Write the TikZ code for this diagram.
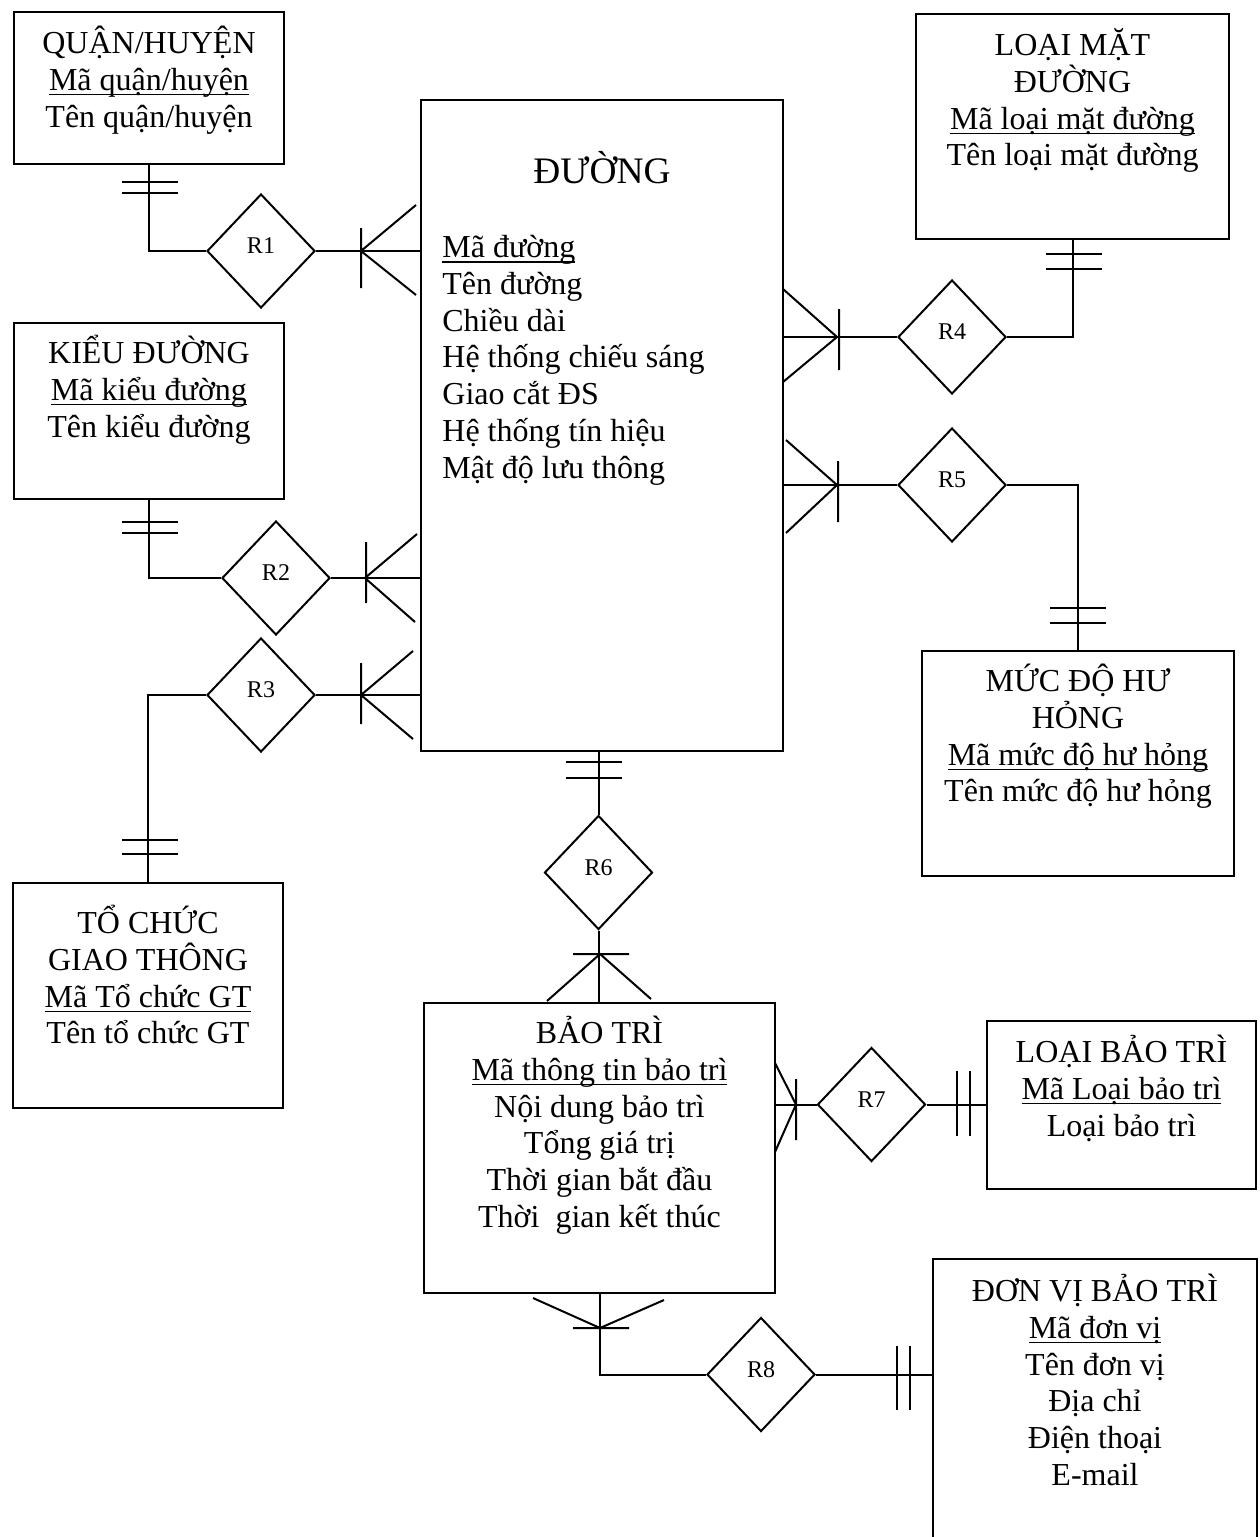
\documentclass[tikz,border=0pt]{standalone}
\usepackage{fontspec}
\setmainfont{Liberation Serif}
\usetikzlibrary{shapes.geometric}
\newsavebox\keyattrbox
\newcommand{\keyattr}[1]{\sbox\keyattrbox{#1}\rlap{\rule[-0.16em]{\wd\keyattrbox}{0.05em}}\usebox\keyattrbox}
\newcommand{\hstrutx}{\rule{0pt}{1.15em}}
\begin{document}
\begin{tikzpicture}[x=0.5pt,y=-0.5pt,
  ent/.style={draw, rectangle, line width=1.2pt, inner sep=0pt},
  rel/.style={draw, diamond, line width=1pt, inner sep=0pt, minimum width=54pt, minimum height=57pt,
    font=\fontsize{12}{14}\selectfont, text height=7.9pt, text depth=5pt},
  txt/.style={align=center, anchor=north, inner sep=0pt,
    font={\fontsize{16}{18.4}\selectfont\lineskiplimit=-100pt}},
  conn/.style={line width=1pt}]
\useasboundingbox (0,0) rectangle (1259,1537);
\fill[white] (0,0) rectangle (1259,1537);
\clip (0,0) rectangle (1259,1537);

% entities
\node[ent, minimum width=135pt, minimum height=76pt] (qh) at (149,88) {};
\node[ent, minimum width=181pt, minimum height=325.5pt] (duong) at (602,425.5) {};
\node[ent, minimum width=156.5pt, minimum height=112.5pt] (lmd) at (1072.5,126.5) {};
\node[ent, minimum width=135pt, minimum height=88pt] (kd) at (149,411) {};
\node[ent, minimum width=156pt, minimum height=112.5pt] (mdhh) at (1078,763.5) {};
\node[ent, minimum width=135pt, minimum height=112.5pt] (tc) at (148,995.5) {};
\node[ent, minimum width=175.5pt, minimum height=145pt] (bt) at (599.5,1148) {};
\node[ent, minimum width=134.5pt, minimum height=84pt] (lbt) at (1121.5,1105) {};
\node[ent, minimum width=162pt, minimum height=150.5pt] (dv) at (1095,1409.5) {};

% entity texts
\node[txt] (qht) at (149,16.2) {\hstrutx QUẬN/HUYỆN\\\keyattr{Mã quận/huyện}\\Tên quận/huyện};
\node[anchor=base, inner sep=0pt, font=\fontsize{18.7}{21}\selectfont] (duongt) at (602,183) {ĐƯỜNG};
\node[txt, align=left, anchor=north west] (duonga) at (442,220.2) {\hstrutx\keyattr{Mã đường}\\Tên đường\\Chiều dài\\Hệ thống chiếu sáng\\Giao cắt ĐS\\Hệ thống tín hiệu\\Mật độ lưu thông};
\node[txt] (lmdt) at (1072.5,18.2) {\hstrutx LOẠI MẶT\\ĐƯỜNG\\\keyattr{Mã loại mặt đường}\\Tên loại mặt đường};
\node[txt] (kdt) at (149,326.2) {\hstrutx KIỂU ĐƯỜNG\\\keyattr{Mã kiểu đường}\\Tên kiểu đường};
\node[txt] (mdhht) at (1078,654.2) {\hstrutx MỨC ĐỘ HƯ\\HỎNG\\\keyattr{Mã mức độ hư hỏng}\\Tên mức độ hư hỏng};
\node[txt] (tct) at (148,896.2) {\hstrutx TỔ CHỨC\\GIAO THÔNG\\\keyattr{Mã Tổ chức GT}\\Tên tổ chức GT};
\node[txt] (btt) at (599.5,1006.2) {\hstrutx BẢO TRÌ\\\keyattr{Mã thông tin bảo trì}\\Nội dung bảo trì\\Tổng giá trị\\Thời gian bắt đầu\\Thời~ gian kết thúc};
\node[txt] (lbtt) at (1121.5,1025.2) {\hstrutx LOẠI BẢO TRÌ\\\keyattr{Mã Loại bảo trì}\\Loại bảo trì};
\node[txt] (dvt) at (1095,1264.2) {\hstrutx ĐƠN VỊ BẢO TRÌ\\\keyattr{Mã đơn vị}\\Tên đơn vị\\Địa chỉ\\Điện thoại\\E-mail};

% relationships
\node[rel] (r1) at (261,251) {R1};
\node[rel] (r2) at (276,578) {R2};
\node[rel] (r3) at (261,695) {R3};
\node[rel] (r4) at (952,337) {R4};
\node[rel] (r5) at (952,485) {R5};
\node[rel] (r6) at (598.5,872.5) {R6};
\node[rel] (r7) at (871.5,1104.5) {R7};
\node[rel] (r8) at (761,1374.5) {R8};

% R1
\draw[conn] (qh.south) -- (qh.south |- r1.west) -- (r1.west);
\draw[conn] (122,182) -- (178,182) (122,193) -- (178,193);
\draw[conn] (r1.east) -- (r1.east -| duong.west);
\draw[conn] (416,205) -- (361,251) -- (416,295) (361,228) -- (361,288);
% R2
\draw[conn] (kd.south) -- (kd.south |- r2.west) -- (r2.west);
\draw[conn] (122,522) -- (178,522) (122,533) -- (178,533);
\draw[conn] (r2.east) -- (r2.east -| duong.west);
\draw[conn] (417,534) -- (365,578) -- (415,622) (366,542) -- (366,603);
% R3
\draw[conn] (r3.west) -| (tc.north);
\draw[conn] (122,840) -- (178,840) (122,854) -- (178,854);
\draw[conn] (r3.east) -- (r3.east -| duong.west);
\draw[conn] (413,651) -- (361,695) -- (413,739) (361,663) -- (361,724);
% R4
\draw[conn] (duong.east |- r4.west) -- (r4.west);
\draw[conn] (783,289) -- (837,337) -- (783,382) (839,309) -- (839,370);
\draw[conn] (r4.east) -| (lmd.south);
\draw[conn] (1046,254) -- (1102,254) (1046,269) -- (1102,269);
% R5
\draw[conn] (duong.east |- r5.west) -- (r5.west);
\draw[conn] (786,440) -- (837,485) -- (786,533) (838,461) -- (838,522);
\draw[conn] (r5.east) -| (mdhh.north);
\draw[conn] (1050,608) -- (1106,608) (1050,623) -- (1106,623);
% R6
\draw[conn] (r6.north |- duong.south) -- (r6.north);
\draw[conn] (566,762) -- (622,762) (566,778) -- (622,778);
\draw[conn] (r6.south) -- (r6.south |- bt.north);
\draw[conn] (573,954) -- (629,954) (547,1001) -- (600,954) -- (651,999);
% R7
\draw[conn] (bt.east |- r7.west) -- (r7.west);
\draw[conn] (775,1063) -- (796,1104.5) -- (775,1152) (796,1079) -- (796,1140);
\draw[conn] (r7.east) -- (r7.east -| lbt.west);
\draw[conn] (957,1071) -- (957,1136) (970,1071) -- (970,1136);
% R8
\draw[conn] (bt.south) -- (bt.south |- r8.west) -- (r8.west);
\draw[conn] (533,1298) -- (600,1328) -- (664,1300) (573,1328) -- (629,1328);
\draw[conn] (r8.east) -- (r8.east -| dv.west);
\draw[conn] (897,1346) -- (897,1410) (910,1346) -- (910,1410);
\end{tikzpicture}
\end{document}
